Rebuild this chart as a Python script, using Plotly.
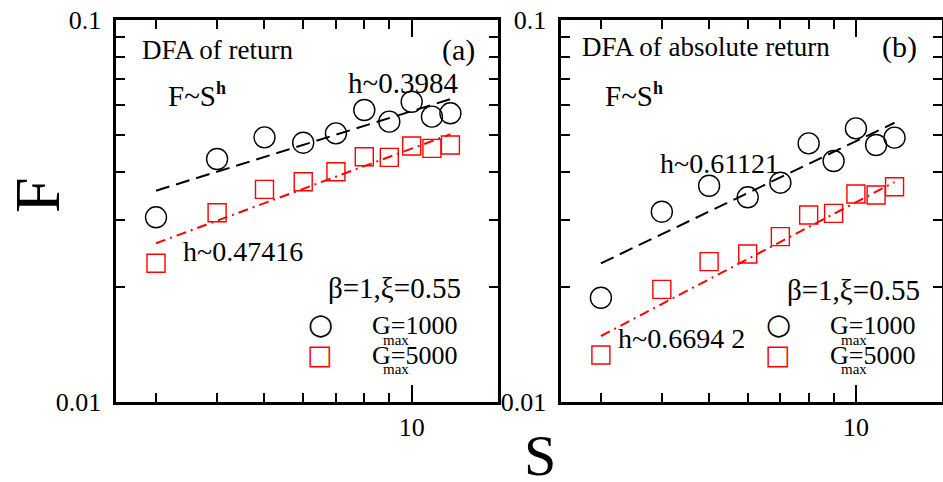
import numpy as np
import plotly.graph_objects as go

# Window sizes S and fluctuation functions F(S)
S = [3, 4, 5, 6, 7, 8, 9, 10, 11, 12]

# (a) DFA of return
F_ret_g1000 = [0.03044, 0.04326, 0.04930, 0.04773, 0.05050, 0.05813, 0.05418, 0.06111, 0.05584, 0.05698]
F_ret_g5000 = [0.02307, 0.03130, 0.03603, 0.03773, 0.04007, 0.04387, 0.04370, 0.04679, 0.04613, 0.04708]

# (b) DFA of absolute return
F_abs_g1000 = [0.01875, 0.03149, 0.03683, 0.03434, 0.03751, 0.04753, 0.04274, 0.05203, 0.04708, 0.04920]
F_abs_g5000 = [0.01327, 0.01972, 0.02330, 0.02440, 0.02709, 0.03086, 0.03118, 0.03503, 0.03482, 0.03661]

# Power-law fits F = A * S^h
h_ret = [0.3984, 0.47416]
A_ret = [10 ** -1.6370, 10 ** -1.8108]
h_abs = [0.61121, 0.66942]
A_abs = [10 ** -1.9286, 10 ** -2.1466]
h_labels_ret = ["h~0.3984", "h~0.47416"]
h_labels_abs = ["h~0.61121", "h~0.6694 2"]

# Series names shown in each panel's key
g_labels = ["1000", "5000"]

x_ticks_minor = [3, 4, 5, 6, 7, 8, 9]
y_ticks_minor = [0.02, 0.03, 0.04, 0.05, 0.06, 0.07, 0.08, 0.09]

W, H = 943, 482
FONT = "Liberation Serif, Times New Roman, serif"
SYMFONT = "DejaVu Sans"


def px(x):
    return x / W


def py(y):
    return (H - y) / H


fig = go.Figure()
S_arr = np.array(S, dtype=float)
panels = [
    ("x", "y", F_ret_g1000, F_ret_g5000, h_ret, A_ret),
    ("x2", "y2", F_abs_g1000, F_abs_g5000, h_abs, A_abs),
]
for xa, ya, f1, f5, hs, As in panels:
    fig.add_trace(go.Scatter(x=S, y=As[0] * S_arr ** hs[0], xaxis=xa, yaxis=ya, mode="lines",
                             showlegend=False, line=dict(color="black", width=2, dash="14px,7px")))
    fig.add_trace(go.Scatter(x=S, y=As[1] * S_arr ** hs[1], xaxis=xa, yaxis=ya, mode="lines",
                             showlegend=False, line=dict(color="red", width=2, dash="10px,5px,2px,5px")))
    fig.add_trace(go.Scatter(x=S, y=f1, xaxis=xa, yaxis=ya, mode="markers", showlegend=False,
                             name="Gmax=" + g_labels[0],
                             marker=dict(symbol="circle-open", size=21, color="black", line=dict(width=1.4))))
    fig.add_trace(go.Scatter(x=S, y=f5, xaxis=xa, yaxis=ya, mode="markers", showlegend=False,
                             name="Gmax=" + g_labels[1],
                             marker=dict(symbol="square-open", size=18, color="red", line=dict(width=1.4))))

common = dict(type="log", showline=True, linewidth=3, linecolor="black", mirror="ticks",
              ticks="inside", tickwidth=2, tickcolor="black", showgrid=False,
              tickfont=dict(family=FONT, size=26, color="black"))
xs = dict(common, range=[0.3953, 1.1765], tickmode="array", tickvals=[10], ticktext=["10"], ticklen=17,
          minor=dict(tickmode="array", tickvals=x_ticks_minor, ticks="inside", ticklen=9,
                     tickwidth=2, tickcolor="black"))
ys = dict(common, range=[-2, -1], tickmode="array", tickvals=[0.01, 0.1],
          ticktext=["0.01\u00a0", "0.1\u00a0"], ticklen=17,
          minor=dict(tickmode="array", tickvals=y_ticks_minor, ticks="inside", ticklen=9,
                     tickwidth=2, tickcolor="black"))
ydom = [py(402), py(20)]
fig.update_layout(
    width=W, height=H, margin=dict(l=0, r=0, t=0, b=0, autoexpand=False),
    paper_bgcolor="white", plot_bgcolor="white", font=dict(family=FONT, color="black"),
    xaxis=dict(xs, domain=[px(116), px(498)], anchor="y"),
    yaxis=dict(ys, domain=ydom, anchor="x"),
    xaxis2=dict(xs, domain=[px(561), px(942)], anchor="y2"),
    yaxis2=dict(ys, domain=ydom, anchor="x2"),
    showlegend=False,
)


def note(text, x, y, size=28, xanchor="left", color="black", family=FONT):
    fig.add_annotation(text=text, x=px(x), y=py(y), xref="paper", yref="paper",
                       xanchor=xanchor, yanchor="middle", showarrow=False,
                       font=dict(family=family, size=size, color=color))


FSH = "F~S<sup><span style='font-size:18px'><b>h</b></span></sup>"

# Panel (a)
note("DFA of return", 140, 50, 27)
note("(a)", 440, 50, 30)
note(FSH, 166, 95, 29)
note(h_labels_ret[0], 346, 83, 29)
note(h_labels_ret[1], 181, 252)
note("β=1,ξ=0.55", 326, 288, 29)

# Panel (b)
note("DFA of absolute return", 580, 47, 27)
note("(b)", 880, 47, 30)
note(FSH, 603, 95, 29)
note(h_labels_abs[0], 658, 163)
note(h_labels_abs[1], 616, 338)
note("β=1,ξ=0.55", 785, 290, 29)

# Keys: open circle / open square followed by G_max values
for sx, tx in [(320, 370), (778, 828)]:
    note("\u25cb", sx, 324, 29, xanchor="center", family=SYMFONT)
    note("\u25a1", sx, 354, 27, xanchor="center", color="red", family=SYMFONT)
    note("G=" + g_labels[0], tx, 325, 26)
    note("max", tx + 11, 340, 15)
    note("G=" + g_labels[1], tx, 355, 26)
    note("max", tx + 11, 369, 15)

# Axis titles
fig.add_annotation(text="F", x=px(37), y=py(195), xref="paper", yref="paper",
                   textangle=-90, showarrow=False, xanchor="center", yanchor="middle",
                   font=dict(family=FONT, size=64, color="black"))
fig.add_annotation(text="S", x=px(540), y=py(455), xref="paper", yref="paper",
                   showarrow=False, xanchor="center", yanchor="middle",
                   font=dict(family=FONT, size=58, color="black"))

fig.write_html("out.html")
